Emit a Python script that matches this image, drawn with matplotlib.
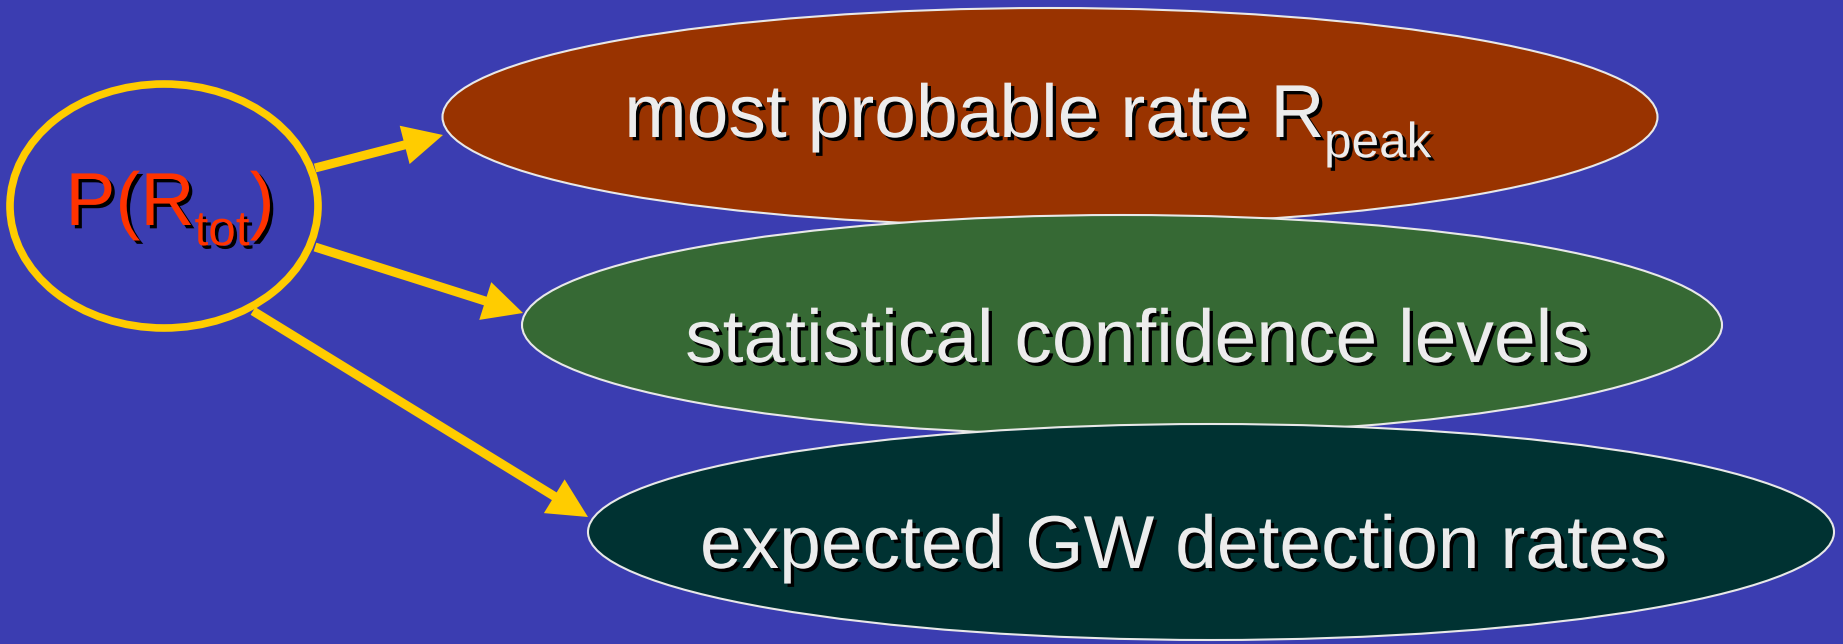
import matplotlib
matplotlib.use("Agg")
from matplotlib import pyplot as plt
from matplotlib.patches import Ellipse, FancyArrowPatch, ArrowStyle
import matplotlib.patheffects as pe

plt.rcParams['font.family'] = ['Liberation Sans', 'DejaVu Sans']

# node texts: list of (piece, is_subscript)
source_label = [("P(R", False), ("tot", True), (")", False)]
target_labels = [
    [("most probable rate R", False), ("peak", True)],
    [("statistical confidence levels", False)],
    [("expected GW detection rates", False)],
]
target_colors = ["#993300", "#366934", "#003232"]

# layout in pixels (figure is 1843 x 644)
W, H = 1843, 644
source_center = (164, 206)
source_size = (308, 244)
target_centers = [(1050, 117), (1122, 325), (1211, 532)]
target_sizes = [(1215, 218), (1200, 220), (1246, 216)]
source_text_pos = (170, 225)
target_text_pos = [(1028, 137), (1137, 362), (1183, 568)]
arrow_starts = [(315, 168), (315, 247), (253, 311)]
arrow_ends = [(443, 135), (523, 313), (588, 517)]

bg = "#3b3db1"
yellow = "#ffcc00"
fs = 54
sub_scale = 0.66

fig = plt.figure(figsize=(W / 100, H / 100), dpi=100, facecolor=bg)
ax = fig.add_axes([0, 0, 1, 1])
ax.set_xlim(0, W)
ax.set_ylim(H, 0)
ax.axis("off")
ax.set_facecolor(bg)

shadow = [pe.withSimplePatchShadow(offset=(2.4, -2.4), shadow_rgbFace="black", alpha=1.0)]


def draw_label(pieces, cx, by, color):
    # measure every piece first, then lay them out centred on cx
    renderer = fig.canvas.get_renderer()
    texts = []
    widths = []
    for s, sub in pieces:
        size = fs * sub_scale if sub else fs
        t = ax.text(0, by, s, fontsize=size, color=color, ha="left", va="baseline",
                    path_effects=shadow, zorder=10)
        bb = t.get_window_extent(renderer)
        texts.append((t, sub))
        widths.append(bb.width)
    x = cx - sum(widths) / 2
    for (t, sub), w in zip(texts, widths):
        y = by + 0.27 * fs * 100 / 72 if sub else by
        t.set_position((x, y))
        x += w


# target ellipses, later ones on top
for i, (c, (w, h), col) in enumerate(zip(target_centers, target_sizes, target_colors)):
    e = Ellipse(c, w, h, facecolor=col, edgecolor="#e8e8e8", linewidth=1.5, zorder=2 + i)
    ax.add_patch(e)

# source ellipse
ax.add_patch(Ellipse(source_center, source_size[0], source_size[1], facecolor="none",
                     edgecolor=yellow, linewidth=5.5, zorder=6))

# arrows
style = ArrowStyle("-|>", head_length=18, head_width=9)
for p0, p1 in zip(arrow_starts, arrow_ends):
    a = FancyArrowPatch(p0, p1, arrowstyle=style, mutation_scale=1, color=yellow,
                        linewidth=6.5, shrinkA=0, shrinkB=0, joinstyle="miter",
                        capstyle="butt", zorder=7)
    ax.add_patch(a)

draw_label(source_label, source_text_pos[0], source_text_pos[1], "#ff3300")
for pieces, (tx, ty) in zip(target_labels, target_text_pos):
    draw_label(pieces, tx, ty, "#ececec")

fig.savefig("out.png", dpi=100, facecolor=bg)
